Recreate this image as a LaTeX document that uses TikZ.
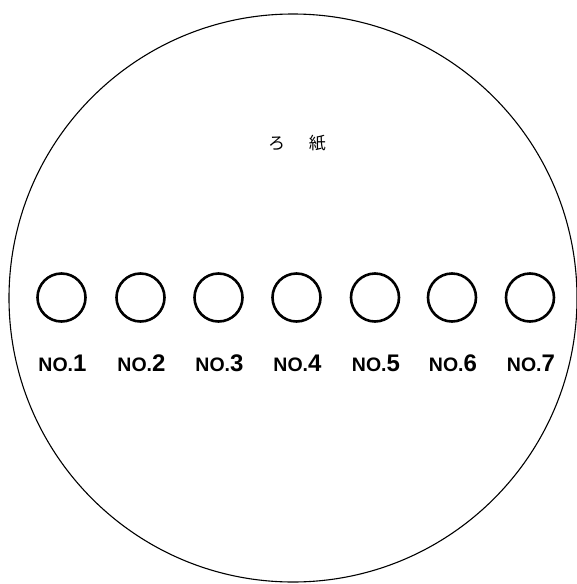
\documentclass[tikz,border=0pt]{standalone}
\usepackage{fontspec}
\setmainfont{Liberation Sans}
\newfontfamily\cjk{Noto Sans CJK JP}

\tikzset{
  hole/.style={circle, draw, line width=2.6pt, minimum size=48pt, inner sep=0pt},
  holelabel/.style={font=\bfseries\fontsize{24}{26}\selectfont, inner sep=0pt}
}
\newcommand{\holeno}[1]{{\fontsize{19.5}{21}\selectfont NO.}#1}

\begin{document}
\begin{tikzpicture}[x=1pt,y=-1pt]
\useasboundingbox (0,0) rectangle (576,584);
% filter paper
\draw[line width=1.1pt] (293,298) circle (284);
\node[font=\cjk\fontsize{17}{19}\selectfont, inner sep=0pt] (title) at (297,143) {ろ\hspace{24pt}紙};
% spots
\foreach \i/\x in {1/61.5,2/140.5,3/218.5,4/296.5,5/375,6/452,7/530}{
  \node[hole] (hole\i) at (\x,297.5) {};
  \node[holelabel, anchor=base] (lab\i) at (\x+1,371) {\holeno{\i}};
}
\end{tikzpicture}
\end{document}
